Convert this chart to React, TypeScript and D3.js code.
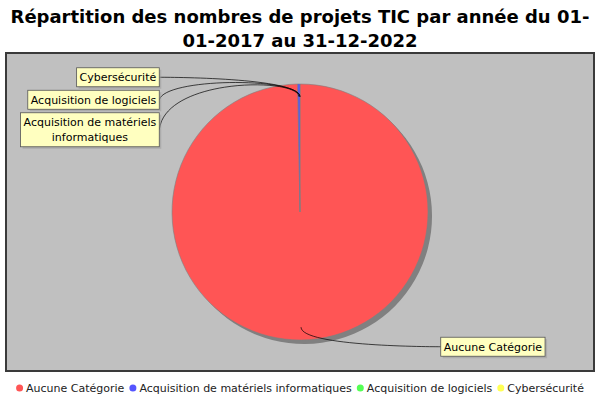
import React, { useEffect, useRef } from "react";
import * as d3 from "d3";

const titleLines = [
  "Répartition des nombres de projets TIC par année du 01-",
  "01-2017 au 31-12-2022",
];
const categories = [
  "Aucune Catégorie",
  "Acquisition de matériels informatiques",
  "Acquisition de logiciels",
  "Cybersécurité",
];
const values = [350, 1, 0, 0];
const colors = ["#ff5555", "#5555ff", "#55ff55", "#ffff55"];

const W = 600;
const H = 400;
const FONT = "'DejaVu Sans', Verdana, sans-serif";

export default function App() {
  const ref = useRef<SVGSVGElement>(null);

  useEffect(() => {
    const svg = d3.select(ref.current!);
    svg.selectAll("*").remove();

    svg.append("rect").attr("width", W).attr("height", H).attr("fill", "#ffffff");

    // Title
    const title = svg
      .append("text")
      .attr("text-anchor", "middle")
      .attr("font-family", FONT)
      .attr("font-weight", "bold")
      .attr("font-size", 18)
      .attr("fill", "#000");
    titleLines.forEach((l, i) =>
      title.append("tspan").attr("x", W / 2).attr("y", 23 + i * 23.5).text(l)
    );

    // Plot area
    const plot = { x: 6, y: 53, w: 588, h: 318 };
    svg
      .append("rect")
      .attr("x", plot.x)
      .attr("y", plot.y)
      .attr("width", plot.w)
      .attr("height", plot.h)
      .attr("fill", "#c0c0c0")
      .attr("stroke", "#3a3a3a")
      .attr("stroke-width", 2);

    const cx = 300;
    const cy = 212;
    const r = 128;
    const linkR = r / 0.95;
    const linkPct = 0.9;
    const gap = 6;

    const arcs = d3
      .pie<number>()
      .sort(null)
      .value((d) => d)(values);
    const arcGen = d3.arc<d3.PieArcDatum<number>>().innerRadius(0).outerRadius(r);

    // Shadow
    const sh = svg.append("g").attr("transform", `translate(${cx + 4},${cy + 4})`);
    arcs
      .filter((a) => a.value > 0)
      .forEach((a) => {
        sh.append("path").attr("d", arcGen(a)!).attr("fill", "#808080");
      });

    // Slices
    const pg = svg.append("g").attr("transform", `translate(${cx},${cy})`);
    arcs.forEach((a, i) => {
      if (a.value <= 0) return;
      pg.append("path")
        .attr("d", arcGen(a)!)
        .attr("fill", colors[i])
        .attr("stroke", "#808080")
        .attr("stroke-width", 0.6);
    });

    // Measuring helper
    const measurer = svg
      .append("text")
      .attr("font-family", FONT)
      .attr("font-size", 11)
      .attr("visibility", "hidden");
    const measure = (s: string) => {
      measurer.text(s);
      return (measurer.node() as SVGTextElement).getComputedTextLength();
    };

    const maxLabelW = 140;
    const lineH = 15;
    const padX = 3;
    const padY = 2;

    type Lab = {
      i: number;
      lines: string[];
      w: number;
      h: number;
      a: number;
      left: boolean;
      baseY: number;
      y: number;
    };
    const labs: Lab[] = arcs.map((a, i) => {
      const words = categories[i].split(" ");
      const lines: string[] = [];
      let cur = "";
      words.forEach((wd) => {
        const t = cur ? cur + " " + wd : wd;
        if (cur && measure(t) > maxLabelW) {
          lines.push(cur);
          cur = wd;
        } else cur = t;
      });
      if (cur) lines.push(cur);
      const tw = d3.max(lines, (l) => measure(l)) || 0;
      const mid = (a.startAngle + a.endAngle) / 2;
      const baseY = cy - Math.cos(mid) * linkR;
      return {
        i,
        lines,
        w: tw + 2 * padX,
        h: lines.length * lineH + 2 * padY,
        a: mid,
        left: Math.sin(mid) < 1e-9,
        baseY,
        y: baseY,
      };
    });

    const distribute = (list: Lab[]) => {
      list.sort((p, q) => (Math.abs(p.baseY - q.baseY) > 1e-6 ? p.baseY - q.baseY : q.i - p.i));
      let prevBottom = -Infinity;
      list.forEach((l) => {
        let top = l.baseY - l.h / 2;
        if (top < prevBottom + 3.5) top = prevBottom + 3.5;
        l.y = top + l.h / 2;
        prevBottom = top + l.h;
      });
    };
    distribute(labs.filter((l) => l.left));
    distribute(labs.filter((l) => !l.left));

    const linkG = svg.append("g").attr("fill", "none").attr("stroke", "#000").attr("stroke-width", 0.7);
    const labG = svg.append("g");

    labs.forEach((l) => {
      const linkX = cx + Math.sin(l.a) * r * linkPct;
      const linkY = cy - Math.cos(l.a) * r * linkPct;
      const elbowX = cx + Math.sin(l.a) * linkR;
      const elbowY = cy - Math.cos(l.a) * linkR;
      const anchorX = l.left ? cx - linkR : cx + linkR;
      const anchorY = elbowY;
      const targetX = l.left ? anchorX - gap : anchorX + gap;
      const targetY = l.y;
      const p = d3.path();
      p.moveTo(targetX, targetY);
      p.bezierCurveTo(anchorX, anchorY, elbowX, elbowY, linkX, linkY);
      linkG.append("path").attr("d", p.toString());

      const bx = l.left ? targetX - l.w : targetX;
      const by = l.y - l.h / 2;
      labG
        .append("rect")
        .attr("x", bx + 2)
        .attr("y", by + 2)
        .attr("width", l.w)
        .attr("height", l.h)
        .attr("fill", "rgba(151,151,151,0.5)");
      labG
        .append("rect")
        .attr("x", bx)
        .attr("y", by)
        .attr("width", l.w)
        .attr("height", l.h)
        .attr("fill", "#ffffc0")
        .attr("stroke", "#555")
        .attr("stroke-width", 0.8);
      const t = labG
        .append("text")
        .attr("font-family", FONT)
        .attr("font-size", 11)
        .attr("fill", "#000")
        .attr("text-anchor", "middle");
      l.lines.forEach((ln, k) =>
        t
          .append("tspan")
          .attr("x", bx + l.w / 2)
          .attr("y", by + padY + k * lineH + 11.5)
          .text(ln)
      );
    });

    // Legend
    const lr = 3.5;
    const itemGap = 3;
    const sep = 5;
    const widths = categories.map((c) => measure(c));
    const total =
      d3.sum(widths) + categories.length * (2 * lr + itemGap) + (categories.length - 1) * sep;
    let x = (W - total) / 2;
    const lg = svg.append("g");
    const ly = 388;
    categories.forEach((c, i) => {
      lg.append("circle").attr("cx", x + lr).attr("cy", ly).attr("r", lr).attr("fill", colors[i]);
      lg.append("text")
        .attr("x", x + 2 * lr + itemGap)
        .attr("y", ly + 4)
        .attr("font-family", FONT)
        .attr("font-size", 11)
        .attr("fill", "#222")
        .text(c);
      x += 2 * lr + itemGap + widths[i] + sep;
    });

    measurer.remove();
  }, []);

  return (
    <svg
      ref={ref}
      width={W}
      height={H}
      style={{ position: "absolute", left: 0, top: 0, display: "block" }}
    />
  );
}
